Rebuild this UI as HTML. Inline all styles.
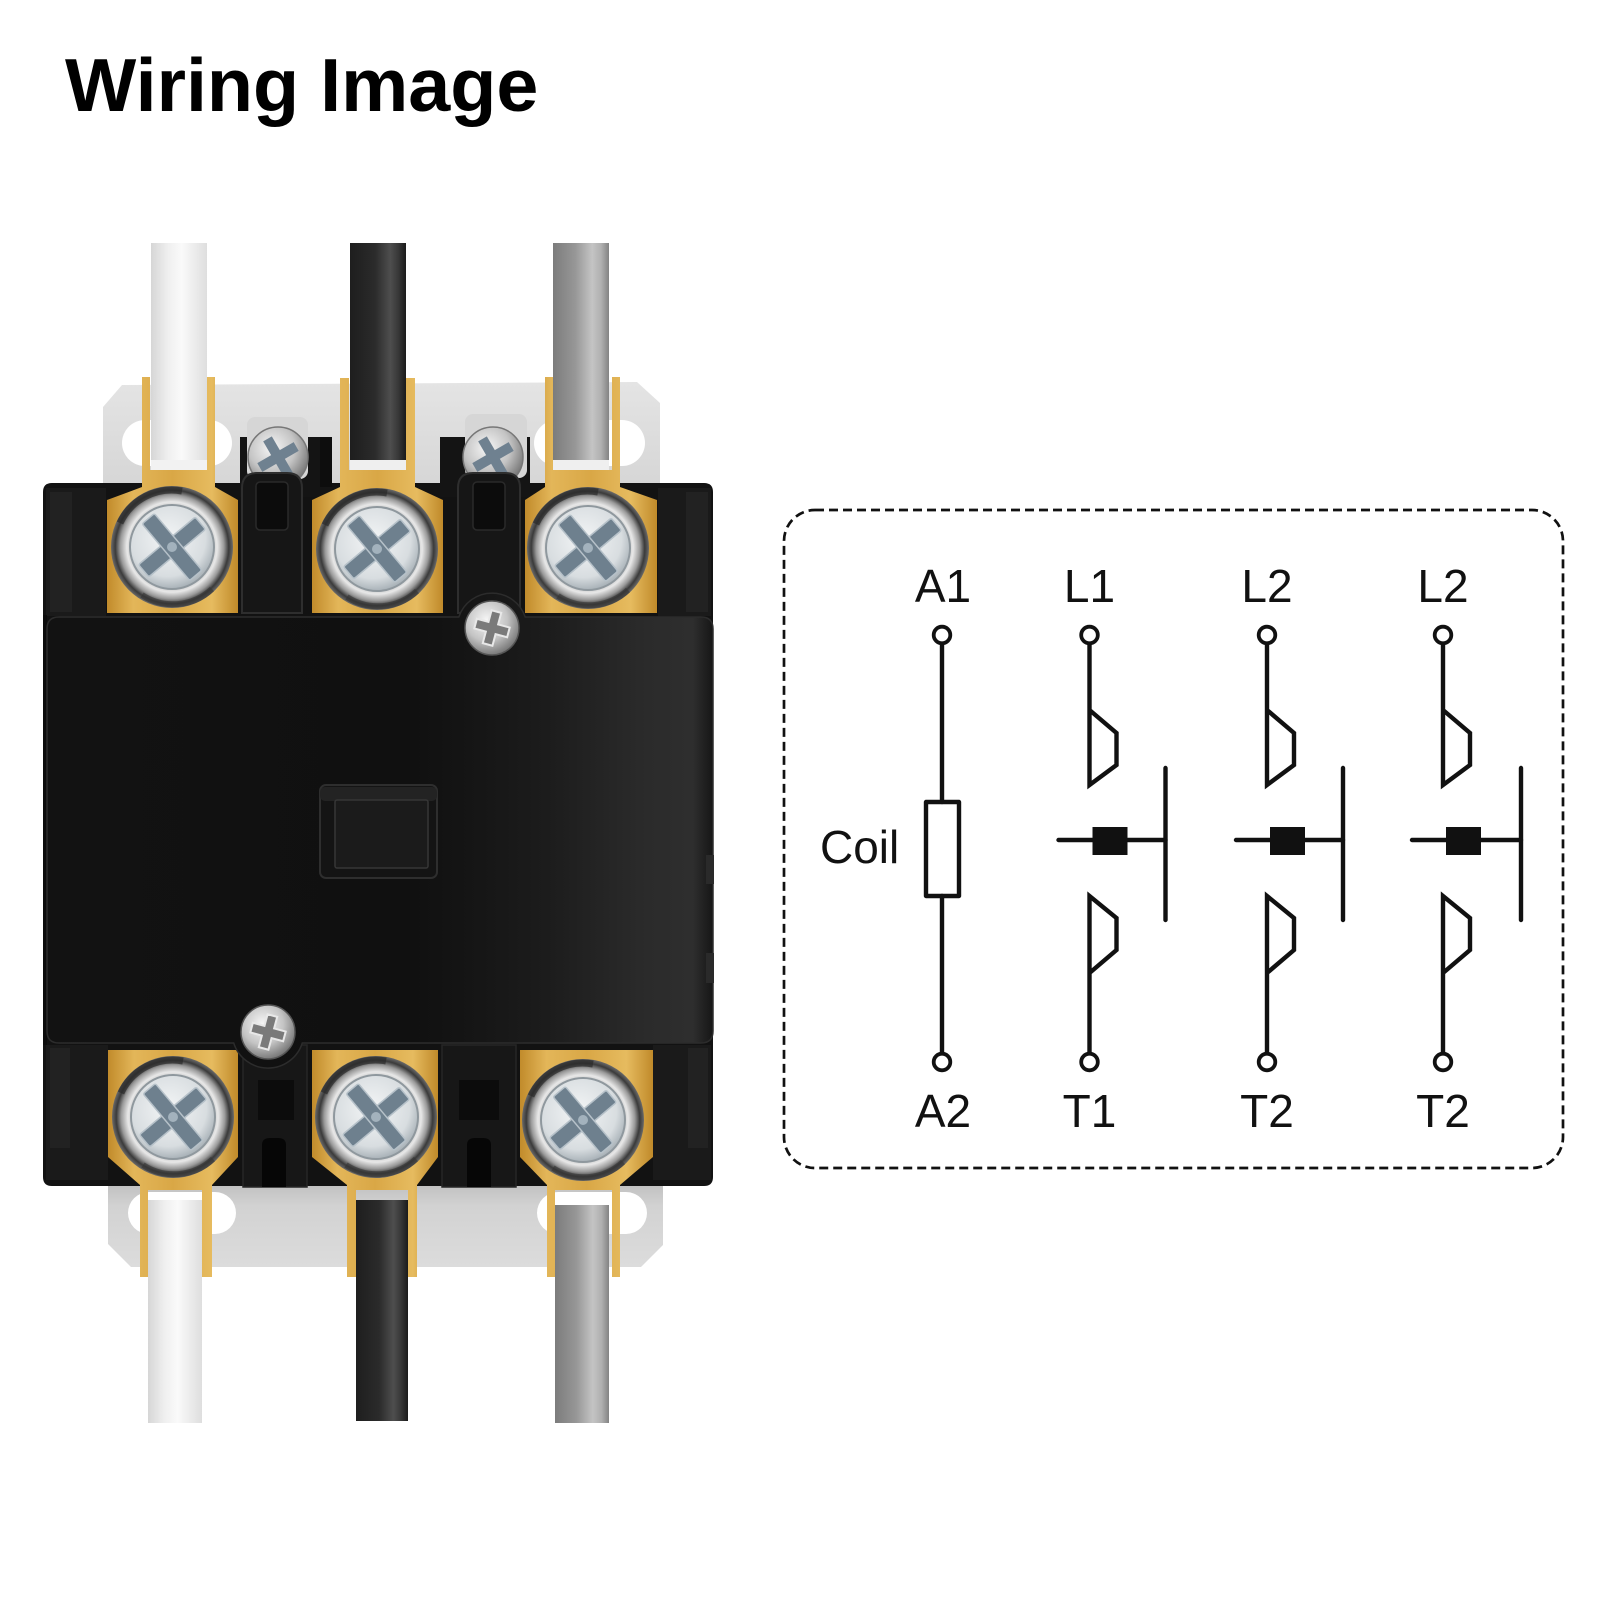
<!DOCTYPE html>
<html><head><meta charset="utf-8">
<style>
html,body{margin:0;padding:0;background:#fff;}
svg{display:block;}
</style></head>
<body>
<svg width="1600" height="1600" viewBox="0 0 1600 1600" xmlns="http://www.w3.org/2000/svg">
<defs>
  <linearGradient id="wireW" x1="0" y1="0" x2="1" y2="0">
    <stop offset="0" stop-color="#d6d6d6"/><stop offset=".3" stop-color="#efefef"/>
    <stop offset=".55" stop-color="#fafafa"/><stop offset="1" stop-color="#dedede"/>
  </linearGradient>
  <linearGradient id="wireB" x1="0" y1="0" x2="1" y2="0">
    <stop offset="0" stop-color="#1e1e1e"/><stop offset=".45" stop-color="#2b2b2b"/>
    <stop offset=".72" stop-color="#4e4e4e"/><stop offset=".86" stop-color="#383838"/>
    <stop offset="1" stop-color="#1b1b1b"/>
  </linearGradient>
  <linearGradient id="wireG" x1="0" y1="0" x2="1" y2="0">
    <stop offset="0" stop-color="#7c7c7c"/><stop offset=".4" stop-color="#979797"/>
    <stop offset=".7" stop-color="#c4c4c4"/><stop offset=".86" stop-color="#b0b0b0"/>
    <stop offset="1" stop-color="#838383"/>
  </linearGradient>
  <linearGradient id="plate" x1="0" y1="0" x2="0" y2="1">
    <stop offset="0" stop-color="#e4e4e4"/><stop offset="1" stop-color="#d4d4d4"/>
  </linearGradient>
  <linearGradient id="plateB" x1="0" y1="0" x2="0" y2="1">
    <stop offset="0" stop-color="#bdbdbd"/><stop offset=".3" stop-color="#d2d2d2"/><stop offset="1" stop-color="#dcdcdc"/>
  </linearGradient>
  <linearGradient id="brass" x1="0" y1="0" x2="1" y2="0">
    <stop offset="0" stop-color="#c18b2b"/><stop offset=".2" stop-color="#e3b659"/>
    <stop offset=".5" stop-color="#d9a746"/><stop offset=".8" stop-color="#e6bb5f"/>
    <stop offset="1" stop-color="#c08a2a"/>
  </linearGradient>
  <linearGradient id="cover" gradientUnits="userSpaceOnUse" x1="47" y1="0" x2="713" y2="0">
    <stop offset="0" stop-color="#121212"/><stop offset=".55" stop-color="#101010"/>
    <stop offset=".75" stop-color="#1c1c1c"/><stop offset=".9" stop-color="#2b2b2b"/>
    <stop offset=".97" stop-color="#2e2e2e"/><stop offset="1" stop-color="#161616"/>
  </linearGradient>
  <radialGradient id="washer" cx=".5" cy=".5" r=".5">
    <stop offset="0" stop-color="#eeeeee"/><stop offset=".68" stop-color="#cfcfcf"/>
    <stop offset=".74" stop-color="#e8e8e8"/><stop offset=".85" stop-color="#9a9a9a"/>
    <stop offset=".93" stop-color="#3a3a3a"/><stop offset="1" stop-color="#6a6a6a"/>
  </radialGradient>
  <radialGradient id="head" cx=".45" cy=".4" r=".6">
    <stop offset="0" stop-color="#f3f5f6"/><stop offset=".75" stop-color="#d8dde0"/>
    <stop offset="1" stop-color="#a9b2b8"/>
  </radialGradient>
  <radialGradient id="chrome" cx=".4" cy=".35" r=".7">
    <stop offset="0" stop-color="#f6f6f6"/><stop offset=".55" stop-color="#c4c4c4"/>
    <stop offset="1" stop-color="#6e6e6e"/>
  </radialGradient>

  <g id="bigscrew">
    <circle r="61" fill="url(#washer)"/>
    <path d="M-52 -24 A57 57 0 0 1 10 -56" stroke="#2a2a2a" stroke-width="7" fill="none" opacity=".7"/>
    <path d="M-30 48 A57 57 0 0 0 40 42" stroke="#333" stroke-width="6" fill="none" opacity=".6"/>
    <circle r="42" fill="url(#head)" stroke="#8f989e" stroke-width="2"/>
    <g transform="rotate(-40)">
      <rect x="-37" y="-8" width="74" height="16" rx="2" fill="#6e808e" stroke="#b6c1c9" stroke-width="1.5"/>
      <rect x="-8" y="-37" width="16" height="74" rx="2" fill="#6e808e" stroke="#b6c1c9" stroke-width="1.5"/>
      <rect x="-7" y="-7" width="14" height="14" fill="#6e808e"/>
    </g>
    <circle r="5" fill="#a3b2bd"/>
  </g>
  <g id="smallscrew">
    <circle r="30" fill="url(#chrome)" stroke="#777" stroke-width="1.5"/>
    <g transform="rotate(-30)">
      <rect x="-21" y="-5" width="42" height="10" fill="#6f8190"/>
      <rect x="-5" y="-21" width="10" height="42" fill="#6f8190"/>
    </g>
  </g>
  <g id="coverscrew">
    <circle r="27" fill="url(#chrome)" stroke="#555" stroke-width="1.5"/>
    <g transform="rotate(15)">
      <path d="M-5 -17 L5 -17 L5 -5 L17 -5 L17 5 L5 5 L5 17 L-5 17 L-5 5 L-17 5 L-17 -5 L-5 -5 Z" fill="#7a7a7a" stroke="#e8e8e8" stroke-width="2"/>
    </g>
  </g>
</defs>

<rect width="1600" height="1600" fill="#fff"/>

<!-- Title -->
<text x="65" y="111" font-family="'Liberation Sans', Arial, sans-serif" font-weight="bold" font-size="75.5" fill="#000">Wiring Image</text>

<!-- ============ CONTACTOR PHOTO ============ -->
<path d="M103 407 L122 385 L637 382 L660 403 L660 500 L103 500 Z" fill="url(#plate)"/>
<rect x="122" y="420" width="110" height="46" rx="23" fill="#fff"/>
<rect x="534" y="420" width="111" height="46" rx="23" fill="#fff"/>

<path d="M108 1180 L663 1180 L663 1245 L641 1267 L131 1267 L108 1244 Z" fill="url(#plateB)"/>
<rect x="128" y="1192" width="108" height="42" rx="21" fill="#fff"/>
<rect x="537" y="1192" width="110" height="42" rx="21" fill="#fff"/>

<rect x="151" y="243" width="56" height="240" fill="url(#wireW)"/>
<rect x="350" y="243" width="56" height="240" fill="url(#wireB)"/>
<rect x="553" y="243" width="56" height="240" fill="url(#wireG)"/>
<rect x="151" y="460" width="56" height="20" fill="#f2f2f2"/>
<rect x="350" y="460" width="56" height="20" fill="#efefef"/>
<rect x="553" y="460" width="56" height="20" fill="#efefef"/>

<path d="M43 492 Q43 483 52 483 L704 483 Q713 483 713 492 L713 1177 Q713 1186 704 1186 L52 1186 Q43 1186 43 1177 Z" fill="#121212"/>
<rect x="240" y="437" width="92" height="60" fill="#141414"/>
<rect x="440" y="437" width="90" height="60" fill="#141414"/>
<rect x="46" y="488" width="60" height="128" fill="#1a1a1a"/>
<rect x="50" y="492" width="22" height="120" fill="#222"/>
<rect x="658" y="488" width="53" height="128" fill="#1a1a1a"/>
<rect x="686" y="492" width="22" height="120" fill="#222"/>
<rect x="46" y="1045" width="62" height="135" fill="#1a1a1a"/>
<rect x="50" y="1048" width="20" height="100" fill="#222"/>
<rect x="653" y="1045" width="58" height="135" fill="#1a1a1a"/>
<rect x="688" y="1048" width="20" height="100" fill="#222"/>

<rect x="247" y="417" width="61" height="62" rx="8" fill="#d6d6d6"/>
<rect x="465" y="414" width="62" height="64" rx="8" fill="#d6d6d6"/>
<use href="#smallscrew" x="278" y="457"/>
<use href="#smallscrew" x="493" y="457"/>
<path d="M242 613 L242 488 Q242 473 257 473 L287 473 Q302 473 302 488 L302 613 Z" fill="#161616" stroke="#2e2e2e" stroke-width="2"/>
<rect x="256" y="482" width="32" height="48" rx="4" fill="#0c0c0c" stroke="#2a2a2a" stroke-width="1.5"/>
<path d="M458 613 L458 488 Q458 473 473 473 L505 473 Q520 473 520 488 L520 613 Z" fill="#161616" stroke="#2e2e2e" stroke-width="2"/>
<rect x="473" y="482" width="32" height="48" rx="4" fill="#0c0c0c" stroke="#2a2a2a" stroke-width="1.5"/>
<rect x="320" y="437" width="12" height="50" fill="#0d0d0d"/>

<path d="M142 377 L150 377 L150 470 L207 470 L207 377 L215 377 L215 487 L238 500 L238 613 L107 613 L107 500 L142 487 Z" fill="url(#brass)"/>
<path d="M340 378 L349 378 L349 470 L406 470 L406 378 L415 378 L415 487 L443 500 L443 613 L312 613 L312 500 L340 487 Z" fill="url(#brass)"/>
<path d="M545 377 L553 377 L553 470 L612 470 L612 377 L620 377 L620 487 L657 500 L657 613 L525 613 L525 500 L545 487 Z" fill="url(#brass)"/>
<use href="#bigscrew" x="172" y="547"/>
<use href="#bigscrew" x="377" y="549"/>
<use href="#bigscrew" x="588" y="548"/>

<rect x="243" y="1045" width="64" height="142" fill="#171717" stroke="#262626" stroke-width="1.5"/>
<rect x="258" y="1080" width="36" height="40" fill="#0c0c0c"/>
<path d="M262 1187 L262 1145 Q262 1138 270 1138 L278 1138 Q286 1138 286 1145 L286 1187 Z" fill="#060606"/>
<rect x="442" y="1045" width="74" height="142" fill="#171717" stroke="#262626" stroke-width="1.5"/>
<rect x="459" y="1080" width="40" height="40" fill="#0c0c0c"/>
<path d="M467 1187 L467 1145 Q467 1138 475 1138 L483 1138 Q491 1138 491 1145 L491 1187 Z" fill="#060606"/>

<path d="M108 1050 L238 1050 L238 1157 L212 1185 L212 1277 L202 1277 L202 1190 L148 1190 L148 1277 L140 1277 L140 1185 L108 1157 Z" fill="url(#brass)"/>
<path d="M312 1050 L438 1050 L438 1157 L417 1185 L417 1277 L408 1277 L408 1190 L356 1190 L356 1277 L347 1277 L347 1185 L312 1157 Z" fill="url(#brass)"/>
<path d="M520 1050 L653 1050 L653 1157 L620 1185 L620 1277 L612 1277 L612 1190 L555 1190 L555 1277 L547 1277 L547 1185 L520 1157 Z" fill="url(#brass)"/>
<use href="#bigscrew" x="173" y="1117"/>
<use href="#bigscrew" x="376" y="1117"/>
<use href="#bigscrew" x="583" y="1120"/>

<rect x="148" y="1200" width="54" height="223" fill="url(#wireW)"/>
<rect x="356" y="1200" width="52" height="221" fill="url(#wireB)"/>
<rect x="555" y="1205" width="54" height="218" fill="url(#wireG)"/>

<rect x="43" y="615" width="4" height="430" fill="#0c0c0c"/>
<path d="M59 617 L458.8 617 A35 35 0 0 1 525.2 617 L701 617 Q713 617 713 629 L713 1031 Q713 1043 701 1043 L302.3 1043 A36 36 0 0 1 233.7 1043 L59 1043 Q47 1043 47 1031 L47 629 Q47 617 59 617 Z" fill="url(#cover)" stroke="#2c2c2c" stroke-width="1.5"/>
<rect x="706" y="855" width="8" height="29" fill="#2a2a2a"/>
<rect x="706" y="953" width="8" height="30" fill="#2a2a2a"/>
<use href="#coverscrew" x="492" y="628"/>
<use href="#coverscrew" x="268" y="1032"/>

<rect x="320" y="785" width="117" height="93" rx="6" fill="#141414" stroke="#2e2e2e" stroke-width="2"/>
<rect x="320" y="787" width="117" height="14" rx="5" fill="#232323"/>
<rect x="335" y="800" width="93" height="68" rx="2" fill="#1b1b1b" stroke="#363636" stroke-width="1.5"/>

<!-- ============ SCHEMATIC ============ -->
<rect x="784" y="510" width="779" height="658" rx="31" fill="none" stroke="#111" stroke-width="2.7" stroke-dasharray="9 5"/>

<g stroke="#111" stroke-width="4.4" fill="none" stroke-linecap="round" stroke-linejoin="miter">
  <line x1="942" y1="643" x2="942" y2="802"/>
  <rect x="926" y="802" width="33" height="94" stroke-linejoin="round"/>
  <line x1="942" y1="896" x2="942" y2="1053"/>

  <polyline points="1089.5,643 1089.5,785 1116.5,765 1116.5,733 1089.5,710"/>
  <polyline points="1089.5,1053 1089.5,896 1116.5,918 1116.5,950 1089.5,973"/>
  <line x1="1058.5" y1="840" x2="1165.5" y2="840"/>
  <line x1="1165.5" y1="768" x2="1165.5" y2="920"/>

  <polyline points="1267,643 1267,785 1294,765 1294,733 1267,710"/>
  <polyline points="1267,1053 1267,896 1294,918 1294,950 1267,973"/>
  <line x1="1236" y1="840" x2="1343" y2="840"/>
  <line x1="1343" y1="768" x2="1343" y2="920"/>

  <polyline points="1443,643 1443,785 1470,765 1470,733 1443,710"/>
  <polyline points="1443,1053 1443,896 1470,918 1470,950 1443,973"/>
  <line x1="1412" y1="840" x2="1521" y2="840"/>
  <line x1="1521" y1="768" x2="1521" y2="920"/>
</g>
<g fill="#111">
  <rect x="1092.5" y="827" width="35" height="28"/>
  <rect x="1270" y="827" width="35" height="28"/>
  <rect x="1446" y="827" width="35" height="28"/>
</g>
<g fill="#fff" stroke="#111" stroke-width="3.8">
  <circle cx="942" cy="635" r="8.3"/>
  <circle cx="1089.5" cy="635" r="8.3"/>
  <circle cx="1267" cy="635" r="8.3"/>
  <circle cx="1443" cy="635" r="8.3"/>
  <circle cx="942" cy="1062" r="8.3"/>
  <circle cx="1089.5" cy="1062" r="8.3"/>
  <circle cx="1267" cy="1062" r="8.3"/>
  <circle cx="1443" cy="1062" r="8.3"/>
</g>

<g font-family="'Liberation Sans', Arial, sans-serif" font-size="46" fill="#111" text-anchor="middle">
  <text x="943" y="602">A1</text>
  <text x="1089.5" y="602">L1</text>
  <text x="1267" y="602">L2</text>
  <text x="1443" y="602">L2</text>
  <text x="943" y="1127">A2</text>
  <text x="1089.5" y="1127">T1</text>
  <text x="1267" y="1127">T2</text>
  <text x="1443" y="1127">T2</text>
</g>
<text x="820" y="863" font-family="'Liberation Sans', Arial, sans-serif" font-size="46" fill="#111">Coil</text>
</svg>
</body></html>
